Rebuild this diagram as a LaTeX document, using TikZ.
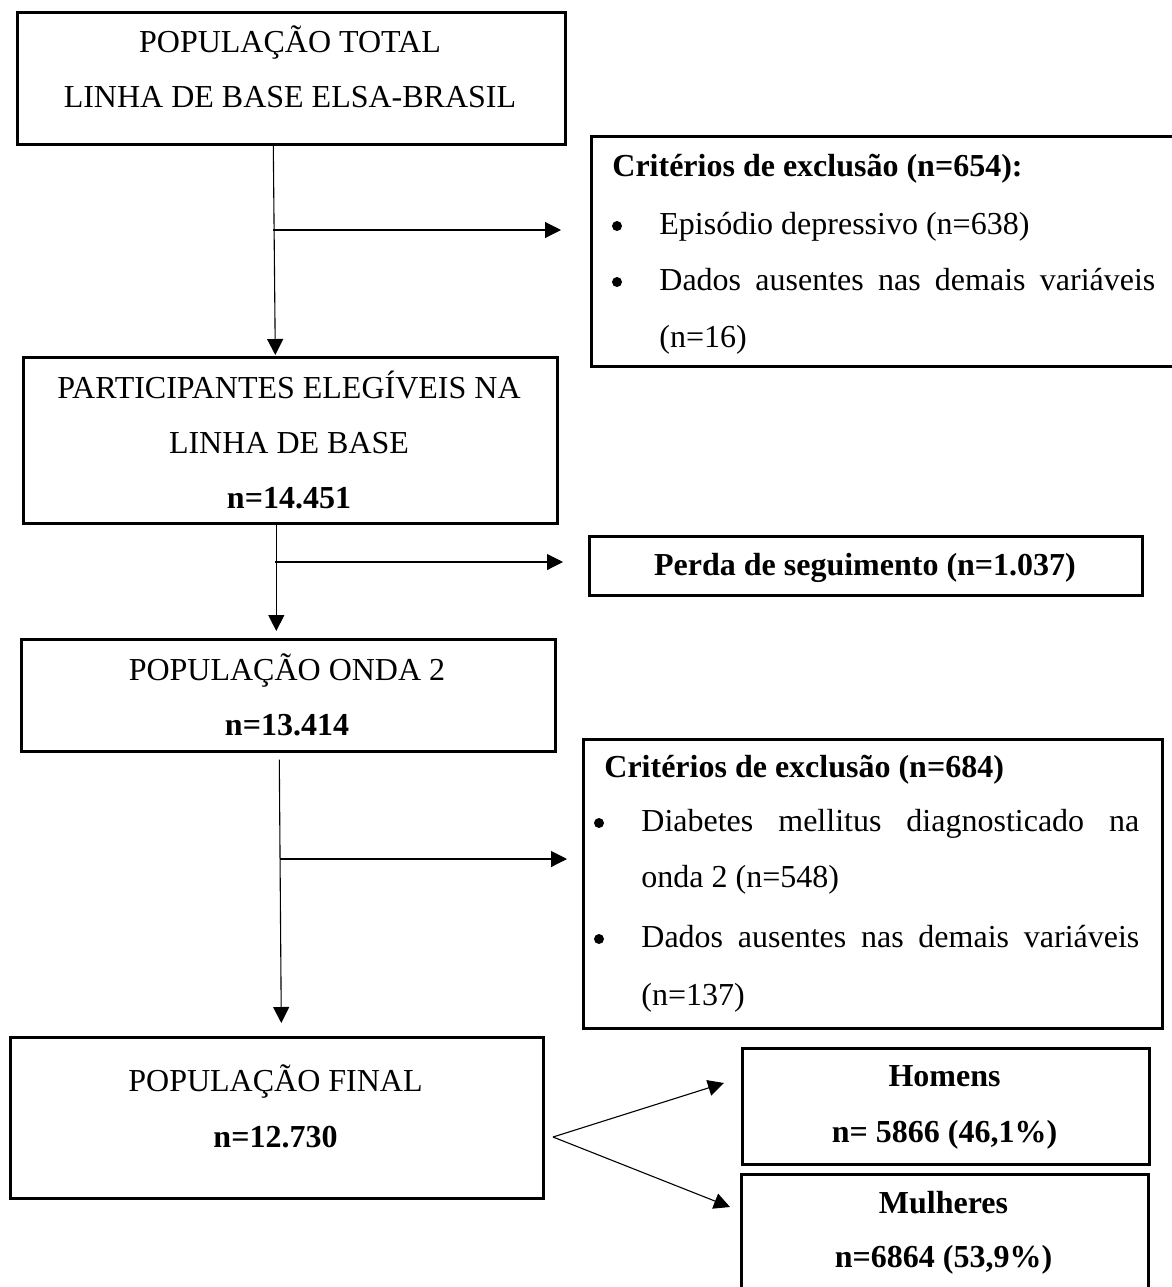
\documentclass[tikz,border=0pt]{standalone}
\usepackage{fontspec}
\setmainfont{Liberation Serif}
\usetikzlibrary{arrows.meta,calc}
\tikzset{
  box/.style={draw, line width=1.3pt, rectangle, inner sep=0pt, anchor=north west},
  txt/.style={inner sep=0pt, anchor=base, font=\fontsize{16pt}{27.5pt}\selectfont},
  txtw/.style={txt, anchor=base west},
  bul/.style={circle, fill=black, inner sep=0pt, minimum size=5pt},
  arr/.style={line width=0.55pt, -{Triangle[length=8pt,width=8pt]}}
}
\begin{document}
\begin{tikzpicture}[x=0.5pt,y=-0.5pt]
\path[use as bounding box, clip] (0,0) rectangle (1172,1287);
\fill[white] (0,0) rectangle (1172,1287);
% boxes
\node[box, minimum width=274pt, minimum height=66pt] (b1) at (16,11) {};
\node[box, minimum width=267pt, minimum height=83pt] (b2) at (22,356) {};
\node[box, minimum width=267pt, minimum height=56pt] (b3) at (20,638) {};
\node[box, minimum width=266.5pt, minimum height=80.5pt] (b4) at (9,1036) {};
\node[box, minimum width=300pt, minimum height=115pt] (c1) at (590,135) {};
\node[box, minimum width=276.5pt, minimum height=29.5pt] (pd) at (588,535) {};
\node[box, minimum width=289.5pt, minimum height=144.5pt] (c2) at (582,738) {};
\node[box, minimum width=203.5pt, minimum height=58pt] (hm) at (741,1047) {};
\node[box, minimum width=203.5pt, minimum height=65pt] (ml) at (740,1173) {};
% texts
\node[txt] (b1a) at (290,52) {POPULAÇÃO TOTAL};
\node[txt] (b1b) at (290,107) {LINHA DE BASE ELSA-BRASIL};
\node[txt] (b2a) at (289,398) {PARTICIPANTES ELEGÍVEIS NA};
\node[txt] (b2b) at (289,453) {LINHA DE BASE};
\node[txt] (b2c) at (289,508) {\textbf{n=14.451}};
\node[txt] (b3a) at (287,680) {POPULAÇÃO ONDA 2};
\node[txt] (b3b) at (287,735) {\textbf{n=13.414}};
\node[txt] (b4a) at (275.5,1091) {POPULAÇÃO FINAL};
\node[txt] (b4b) at (275.5,1147) {\textbf{n=12.730}};
\node[txtw] (c1t) at (612,176) {\textbf{Critérios de exclusão (n=654):}};
\node[bul] (c1p1) at (617,226) {};
\node[txtw] (c1l1) at (659,234) {Episódio depressivo (n=638)};
\node[bul] (c1p2) at (617,282) {};
\node[txtw] (c1l2) at (659,290) {\makebox[248pt][s]{Dados ausentes nas demais variáveis}};
\node[txtw] (c1l3) at (659,347) {(n=16)};
\node[txt] (pdt) at (865,575) {\textbf{Perda de seguimento (n=1.037)}};
\node[txtw] (c2t) at (604,777) {\textbf{Critérios de exclusão (n=684)}};
\node[bul] (c2p1) at (599,823) {};
\node[txtw] (c2l1) at (641,831) {\makebox[249pt][s]{Diabetes mellitus diagnosticado na}};
\node[txtw] (c2l2) at (641,887) {onda 2 (n=548)};
\node[bul] (c2p2) at (599,939) {};
\node[txtw] (c2l3) at (641,947) {\makebox[249pt][s]{Dados ausentes nas demais variáveis}};
\node[txtw] (c2l4) at (641,1005) {(n=137)};
\node[txt] (hma) at (944.5,1086) {\textbf{Homens}};
\node[txt] (hmb) at (944.5,1142) {\textbf{n= 5866 (46,1\%)}};
\node[txt] (mla) at (943.5,1213) {\textbf{Mulheres}};
\node[txt] (mlb) at (943.5,1267) {\textbf{n=6864 (53,9\%)}};
% connectors
\draw[arr] ([xshift=-9pt]b1.south) -- ([xshift=-7.5pt,yshift=0.5pt]b2.north);
\coordinate (br1) at (273,230);
\coordinate (t1) at (561,230);
\draw[arr] (br1) -- (t1);
\draw[arr] ([xshift=-7pt]b2.south) -- ([xshift=-6pt,yshift=3.5pt]b3.north);
\coordinate (br2) at (275,562);
\coordinate (t2) at (563,562);
\draw[arr] (br2) -- (t2);
\draw[arr] ([xshift=-4.5pt,yshift=-3.5pt]b3.south) -- ([xshift=2.25pt,yshift=6.5pt]b4.north);
\coordinate (br3) at (280,859);
\coordinate (t3) at (567,859);
\draw[arr] (br3) -- (t3);
\coordinate (fk) at (553,1137);
\coordinate (th) at (724,1083);
\coordinate (tm) at (730,1207);
\draw[arr] (fk) -- (th);
\draw[arr] (fk) -- (tm);
\end{tikzpicture}
\end{document}
